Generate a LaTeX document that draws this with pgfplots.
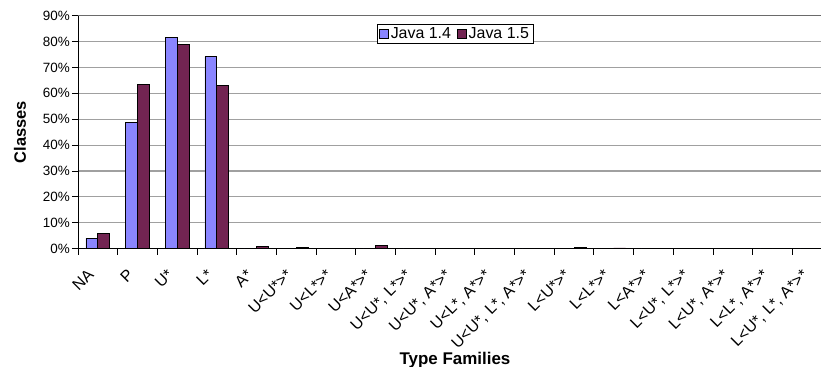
\documentclass[border=0pt]{standalone}
\usepackage{pgfplots}
\pgfplotsset{compat=1.18}
\usepackage{fontspec}
\setmainfont{Liberation Sans}

\definecolor{javaA}{HTML}{8A85FF}
\definecolor{javaB}{HTML}{722452}
\definecolor{gridgray}{HTML}{A0A0A0}
\definecolor{framegray}{HTML}{6A6A6A}

% Share of classes per type family, in percent (categories 0..18)
\pgfplotstableread{
x  j14   j15
0  4.0   5.8
1  48.9  63.5
2  81.5  78.9
3  74.1  63.2
4  0     0.8
5  0.2   0.6
6  0     0
7  0     1.4
8  0     0
9  0     0.1
10 0     0
11 0     0
12 0     0.4
13 0     0.3
14 0     0.2
15 0     0.1
16 0     0
17 0     0
18 0     0
}\famdata

\begin{document}
\begin{tikzpicture}
\begin{axis}[
  scale only axis,
  width=754bp, height=233bp,
  xmin=-0.5, xmax=18.5,
  ymin=0, ymax=90,
  ybar=0pt, bar width=0.3,
  axis x line*=bottom, axis y line*=left,
  axis line style={black, line width=0.9bp, -},
  tick align=outside,
  major tick length=6bp,
  tick style={black, line width=0.9bp},
  xtick={-0.5,0.5,...,18.5},
  x tick label as interval,
  xticklabels={NA,P,U*,L*,A*,U<U*>*,U<L*>*,U<A*>*,{U<U*, L*>*},{U<U*, A*>*},{U<L*, A*>*},{U<U*, L*, A*>*},L<U*>*,L<L*>*,L<A*>*,{L<U*, L*>*},{L<U*, A*>*},{L<L*, A*>*},{L<U*, L*, A*>*}},
  x tick label style={xshift=-11bp, yshift=-12bp, rotate=45, anchor=north east, font=\fontsize{16}{18}\selectfont, inner sep=1bp},
  ytick={0,10,...,90},
  yticklabels={0\%,10\%,20\%,30\%,40\%,50\%,60\%,70\%,80\%,90\%},
  y tick label style={font=\fontsize{13.5}{15}\selectfont, inner sep=1bp, xshift=-1bp},
  ymajorgrids,
  grid style={gridgray, line width=1.1bp},
  ylabel={Classes},
  ylabel style={font=\fontsize{16.5}{18}\selectfont\bfseries, at={(rel axis cs:0,0.5)}, anchor=center, yshift=58bp},
  xlabel={Type Families},
  xlabel style={font=\fontsize{17}{19}\selectfont\bfseries, at={(rel axis cs:0.5,0)}, anchor=base, yshift=-115.3bp},
  legend columns=2,
  legend style={at={(rel axis cs:0.5,0.921)}, anchor=center, draw=black, line width=0.8bp,
    font=\fontsize{16}{17}\selectfont, inner xsep=2bp, inner ysep=1bp,
    /tikz/every even column/.append style={column sep=4bp}},
  legend image code/.code={\draw[#1, draw=black, line width=0.7bp] (0bp,-4.5bp) rectangle (9bp,4.5bp);},
  clip=false,
]
\addplot[fill=javaA, draw=black, line width=0.8bp] table[x=x, y=j14] {\famdata};
\addplot[fill=javaB, draw=black, line width=0.8bp] table[x=x, y=j15] {\famdata};
\legend{Java 1.4, Java 1.5}
\draw[framegray, line width=1.4bp] (rel axis cs:0,1) -- (rel axis cs:1,1);
\coordinate (lo) at (rel axis cs:0,0);
\coordinate (hi) at (rel axis cs:0,1);
\end{axis}
\pgfresetboundingbox
\path[use as bounding box] ([xshift=-78bp,yshift=-118.3bp]lo) rectangle ([xshift=743bp,yshift=15.7bp]hi);
\end{tikzpicture}
\end{document}
